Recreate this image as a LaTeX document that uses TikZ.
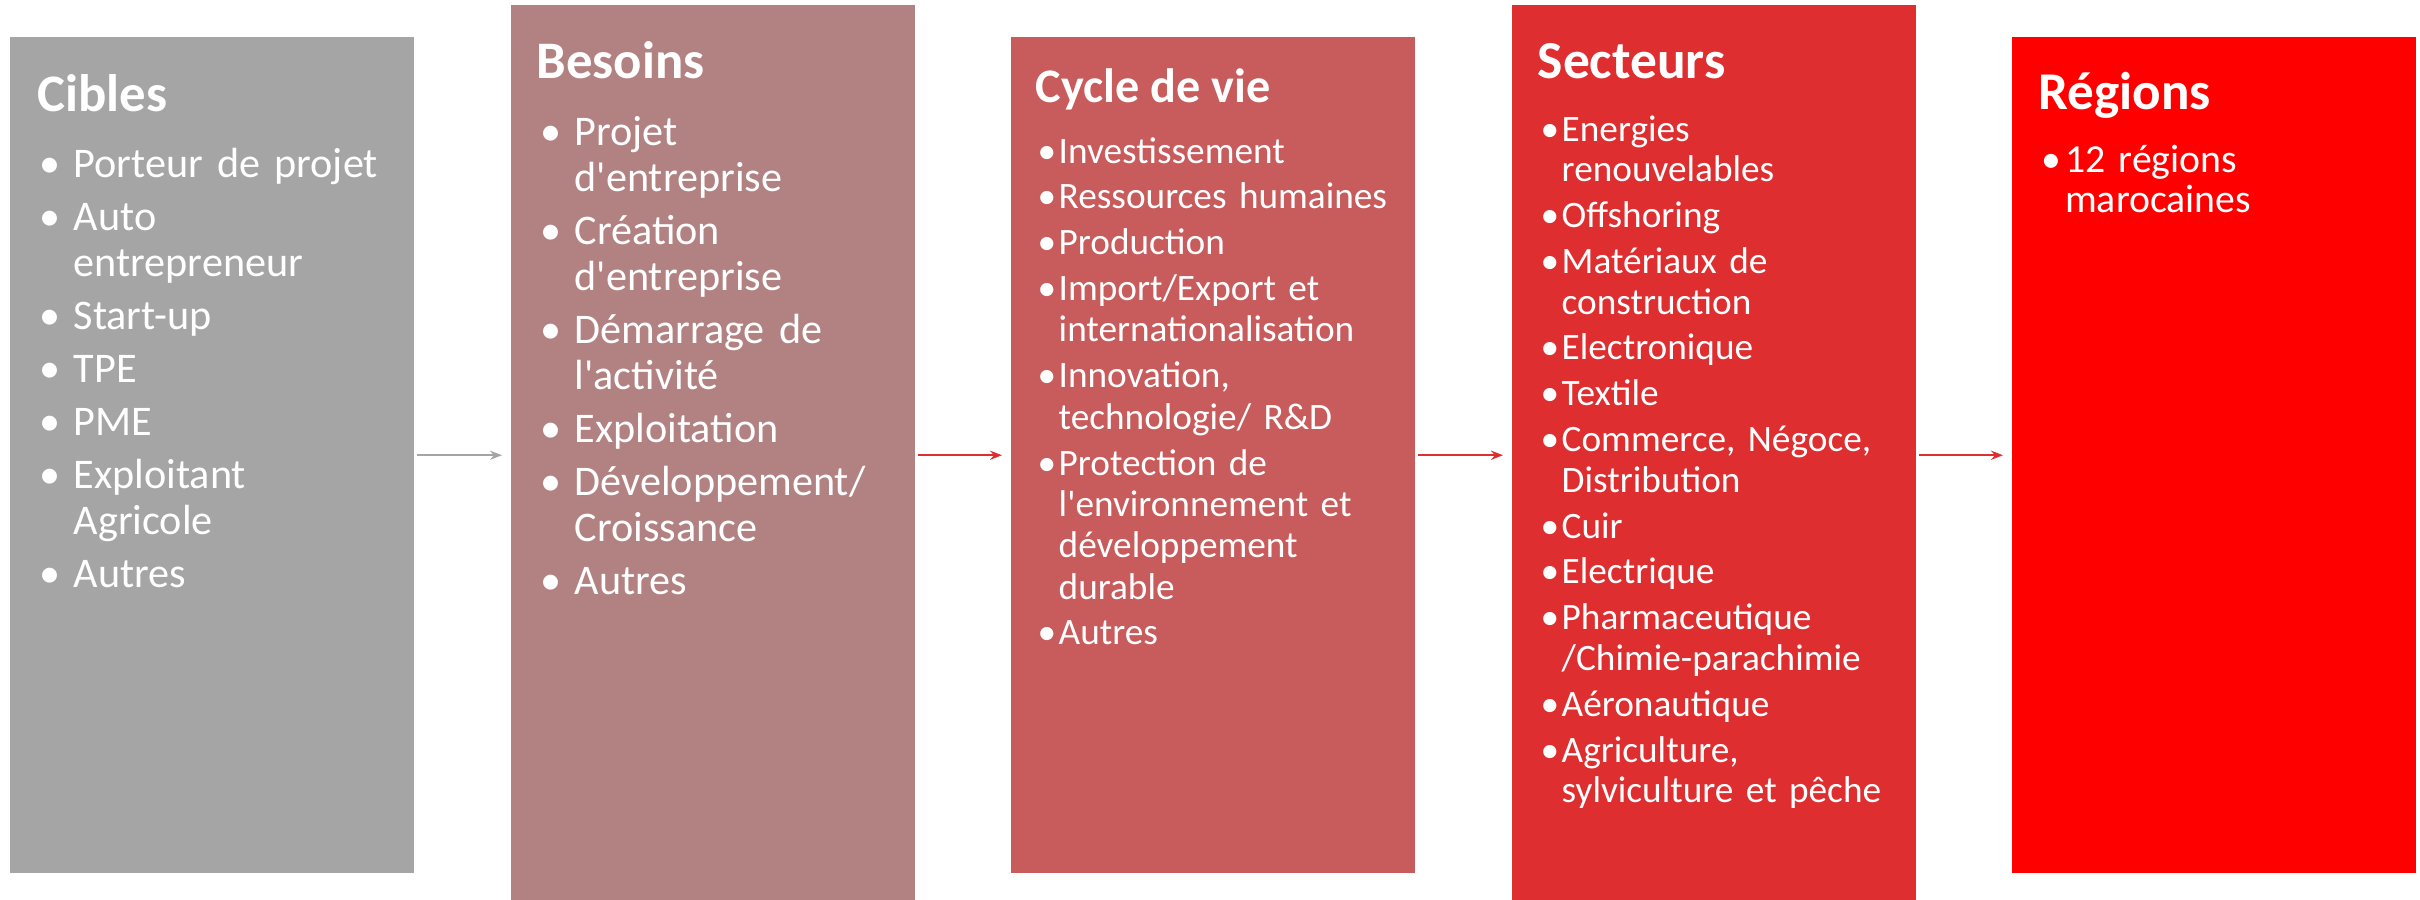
\documentclass[tikz,border=0pt]{standalone}
\usepackage{fontspec}
\setmainfont{Carlito}
\usetikzlibrary{arrows.meta}
\definecolor{gris}{RGB}{165,165,165}
\definecolor{rose}{RGB}{178,129,129}
\definecolor{brique}{RGB}{200,91,91}
\definecolor{rouge}{RGB}{222,46,48}
\definecolor{vif}{RGB}{255,0,0}
\newlength\bw
% puce, nouvel item, ligne de suite
\newcommand\puce{\noindent\makebox[\bw][l]{\textbullet}}
\newcommand\itm{\par\puce}
\newcommand\nl{\newline\hspace*{\bw}}
\newcommand\lst[2]{\setlength\bw{#1}\setlength\parskip{#2}}
\newcommand\ap{\textquotesingle}

\begin{document}
\begin{tikzpicture}[x=0.01cm,y=-0.01cm,>={Stealth[length=3.4pt,width=2.6pt]},
	bloc/.style={anchor=north west,inner sep=0,outer sep=0,minimum width=4.04cm},
	titre/.style={anchor=base west,inner sep=0,text=white,font=\bfseries\fontsize{#1}{18}\selectfont},
	liste/.style={anchor=base west,inner sep=0,text=white,text width=3.74cm,align=left},
	fleche/.style={->,line width=0.57pt,shorten <=0.03cm,shorten >=0.09cm}]
	\useasboundingbox (0,0) rectangle (2420,900);
	% les cinq blocs
	\node[bloc,fill=gris,minimum height=8.36cm] (cibles) at (10,37) {};
	\node[bloc,fill=rose,minimum height=8.95cm] (besoins) at (511,5) {};
	\node[bloc,fill=brique,minimum height=8.36cm] (cycle) at (1011,37) {};
	\node[bloc,fill=rouge,minimum height=8.95cm] (secteurs) at (1512,5) {};
	\node[bloc,fill=vif,minimum height=8.36cm] (regions) at (2012,37) {};
	% titres
	\node[titre=15] (tcibles) at (37,111) {Cibles};
	\node[titre=15] (tbesoins) at (536,78) {Besoins};
	\node[titre=13.7] (tcycle) at (1035,103) {Cycle de vie};
	\node[titre=15.2] (tsecteurs) at (1537,78) {Secteurs};
	\node[titre=15.1] (tregions) at (2038,110) {Régions};
	% listes
	\node[liste,font=\fontsize{12}{13.1}\selectfont] (lcibles) at (39,177) {\lst{0.34cm}{2pt}%
		\puce Porteur de projet
		\itm Auto\nl entrepreneur
		\itm Start-up
		\itm TPE
		\itm PME
		\itm Exploitant\nl Agricole
		\itm Autres};
	\node[liste,font=\fontsize{12}{13.1}\selectfont] (lbesoins) at (540,145) {\lst{0.34cm}{2pt}%
		\puce Projet\nl d\ap entreprise
		\itm Création\nl d\ap entreprise
		\itm Démarrage de\nl l\ap activité
		\itm Exploitation
		\itm Développement/\nl Croissance
		\itm Autres};
	\node[liste,font=\fontsize{10.6}{11.75}\selectfont] (lcycle) at (1037,163) {\lst{0.21cm}{1.3pt}%
		\puce Investissement
		\itm Ressources humaines
		\itm Production
		\itm Import/Export et\nl internationalisation
		\itm Innovation,\nl technologie/ R\&D
		\itm Protection de\nl l\ap environnement et\nl développement\nl durable
		\itm Autres};
	\node[liste,font=\fontsize{10.6}{11.58}\selectfont] (lsecteurs) at (1540,141) {\lst{0.21cm}{1.45pt}%
		\puce Energies\nl renouvelables
		\itm Offshoring
		\itm Matériaux de\nl construction
		\itm Electronique
		\itm Textile
		\itm Commerce, Négoce,\nl Distribution
		\itm Cuir
		\itm Electrique
		\itm Pharmaceutique\nl /Chimie-parachimie
		\itm Aéronautique
		\itm Agriculture,\nl sylviculture et pêche};
	\node[liste,font=\fontsize{11.3}{11.4}\selectfont] (lregions) at (2041,172) {\lst{0.235cm}{1.4pt}%
		\puce 12 régions\nl marocaines};
	% fleches
	\draw[fleche,gris] (cibles.east) -- (cibles.east -| besoins.west);
	\draw[fleche,rouge] (besoins.east |- cycle.west) -- (cycle.west);
	\draw[fleche,rouge] (cycle.east) -- (cycle.east -| secteurs.west);
	\draw[fleche,rouge] (secteurs.east |- regions.west) -- (regions.west);
\end{tikzpicture}
\end{document}
